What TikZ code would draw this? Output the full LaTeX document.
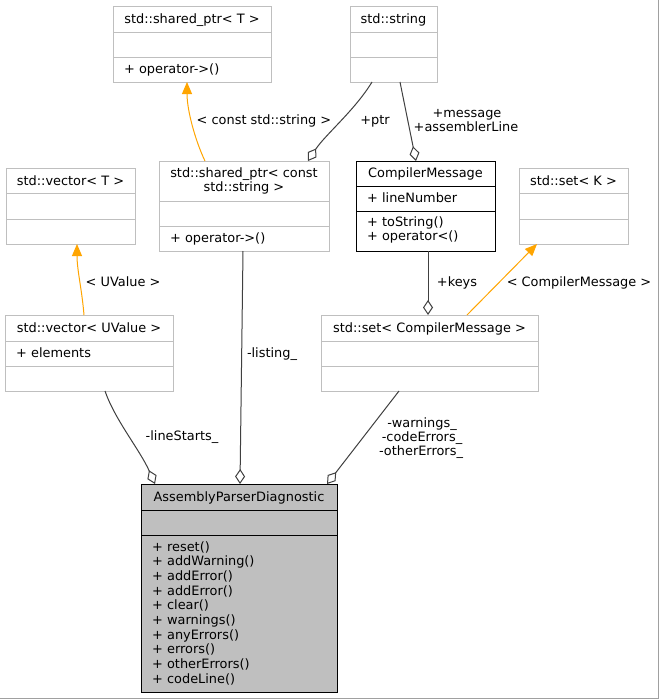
\documentclass[tikz,border=0pt]{standalone}
\usepackage{fontspec}
\setmainfont{DejaVu Sans}
\usetikzlibrary{arrows.meta}
\definecolor{boxgray}{HTML}{BFBFBF}
\definecolor{edgegray}{HTML}{404040}
\definecolor{inhorange}{HTML}{FFA500}
\definecolor{focusfill}{HTML}{BFBFBF}
\definecolor{framegray}{HTML}{A0A0A0}
% #1 name, #2 style, #3 x1, #4 y1, #5 x2, #6 y2, #7 row1, #8 row2
\newcommand\umlbox[8]{%
  \node[#2, inner sep=0pt, outer sep=0pt,
        minimum width={(#5-#3)*1pt}, minimum height={(#6-#4)*1pt}]
        (#1) at ({(#3+#5)/2},{(#4+#6)/2}) {};
  \draw[#2, fill=none] (#3,#7) -- (#5,#7) (#3,#8) -- (#5,#8);
}
\begin{document}
\begin{tikzpicture}[x=1pt, y=-1pt,
  font=\fontsize{12.9}{14.67}\selectfont,
  graybox/.style={draw=boxgray, line width=1pt},
  focusbox/.style={draw=black, fill=focusfill, line width=1pt},
  blackbox/.style={draw=black, fill=white, line width=1pt},
  txt/.style={inner sep=0pt, anchor=base},
  mtxt/.style={inner sep=0pt, anchor=north west, align=left},
  inh/.style={draw=inhorange, line width=1pt, -{Triangle[length=12pt,width=10pt,fill=inhorange]}},
  agg/.style={draw=edgegray, line width=1pt, -{Diamond[open,length=15pt,width=10pt]}},
  elbl/.style={inner sep=0pt, anchor=base}
]
\useasboundingbox (0,0) rectangle (659,699);
\fill[white] (0,0) rectangle (659,699);
\draw[framegray, line width=1pt] (0,698.5) -- (658.5,698.5) -- (658.5,0);

% boxes
\umlbox{spt}{graybox}{113}{6}{271}{82}{32}{57}
\node[txt] (spt-t) at (192,23) {std::shared\_ptr< T >};
\node[txt, anchor=base west] (spt-m) at (124,73) {+ operator->()};

\umlbox{str}{graybox}{350}{6}{437}{82}{32}{57}
\node[txt] (str-t) at (393.5,23) {std::string};

\umlbox{vt}{graybox}{6}{168}{135}{244}{193}{219}
\node[txt] (vt-t) at (70.5,185) {std::vector< T >};

\umlbox{spcs}{graybox}{159}{161}{329}{251}{201}{226}
\node[txt] (spcs-t1) at (244,177) {std::shared\_ptr< const};
\node[txt] (spcs-t2) at (244,191) {std::string >};
\node[txt, anchor=base west] (spcs-m) at (170,242) {+ operator->()};

\umlbox{cm}{blackbox}{356}{161}{495}{251}{186}{211}
\node[txt] (cm-t) at (425.5,177) {CompilerMessage};
\node[txt, anchor=base west] (cm-a) at (367,202) {+ lineNumber};
\node[mtxt] (cm-m) at (367,216) {\rule{0pt}{10pt}+ toString()\\+ operator<()};

\umlbox{setk}{graybox}{519}{168}{628}{244}{193}{219}
\node[txt] (setk-t) at (573.5,185) {std::set< K >};

\umlbox{vu}{graybox}{5}{315}{173}{391}{341}{366}
\node[txt] (vu-t) at (89,332) {std::vector< UValue >};
\node[txt, anchor=base west] (vu-a) at (16,357) {+ elements};

\umlbox{scm}{graybox}{321}{315}{538}{391}{341}{366}
\node[txt] (scm-t) at (429.5,332) {std::set< CompilerMessage >};

\umlbox{apd}{focusbox}{141}{484}{337}{692}{510}{535}
\node[txt] (apd-t) at (239,501) {AssemblyParserDiagnostic};
\node[mtxt] (apd-m) at (152,541) {\rule{0pt}{10pt}+ reset()\\+ addWarning()\\+ addError()\\+ addError()\\+ clear()\\+ warnings()\\+ anyErrors()\\+ errors()\\+ otherErrors()\\+ codeLine()};

% inheritance (template instantiation)
\draw[inh] ([xshift=46pt]spcs.north west) .. controls (195,140) and (187,110) .. ([xshift=74pt]spt.south west);
\node[elbl] (l-cs) at (264,124) {< const std::string >};

\draw[inh] ([xshift=79pt]vu.north west) .. controls (82,290) and (77,270) .. ([xshift=71pt]vt.south west);
\node[elbl] (l-uv) at (123,286) {< UValue >};

\draw[inh] ([xshift=146pt]scm.north west) -- ([xshift=18pt]setk.south west);
\node[elbl] (l-cmk) at (579,286) {< CompilerMessage >};

% aggregation
\draw[agg] ([xshift=22pt]str.south west) .. controls (355,110) and (325,135) .. ([xshift=149pt]spcs.north west);
\node[elbl] (l-ptr) at (375,124) {+ptr};

\draw[agg] ([xshift=50pt]str.south west) -- ([xshift=60pt]cm.north west);
\node[elbl] (l-msg1) at (467,117) {+message};
\node[elbl] (l-msg2) at (466,131) {+assemblerLine};

\draw[agg] ([xshift=72pt]cm.south west) -- ([xshift=107pt]scm.north west);
\node[elbl] (l-keys) at (457,286) {+keys};

\draw[agg] ([xshift=100pt]vu.south west) .. controls (115,420) and (140,450) .. ([xshift=14pt]apd.north west);
\node[elbl] (l-ls) at (182,440) {-lineStarts\_};

\draw[agg] ([xshift=84pt]spcs.south west) -- ([xshift=99pt]apd.north west);
\node[elbl] (l-lst) at (272,357) {-listing\_};

\draw[agg] ([xshift=78pt]scm.south west) -- ([xshift=186pt]apd.north west);
\node[elbl] (l-w1) at (422,427) {-warnings\_};
\node[elbl] (l-w2) at (422,441) {-codeErrors\_};
\node[elbl] (l-w3) at (421,455) {-otherErrors\_};
\end{tikzpicture}
\end{document}
